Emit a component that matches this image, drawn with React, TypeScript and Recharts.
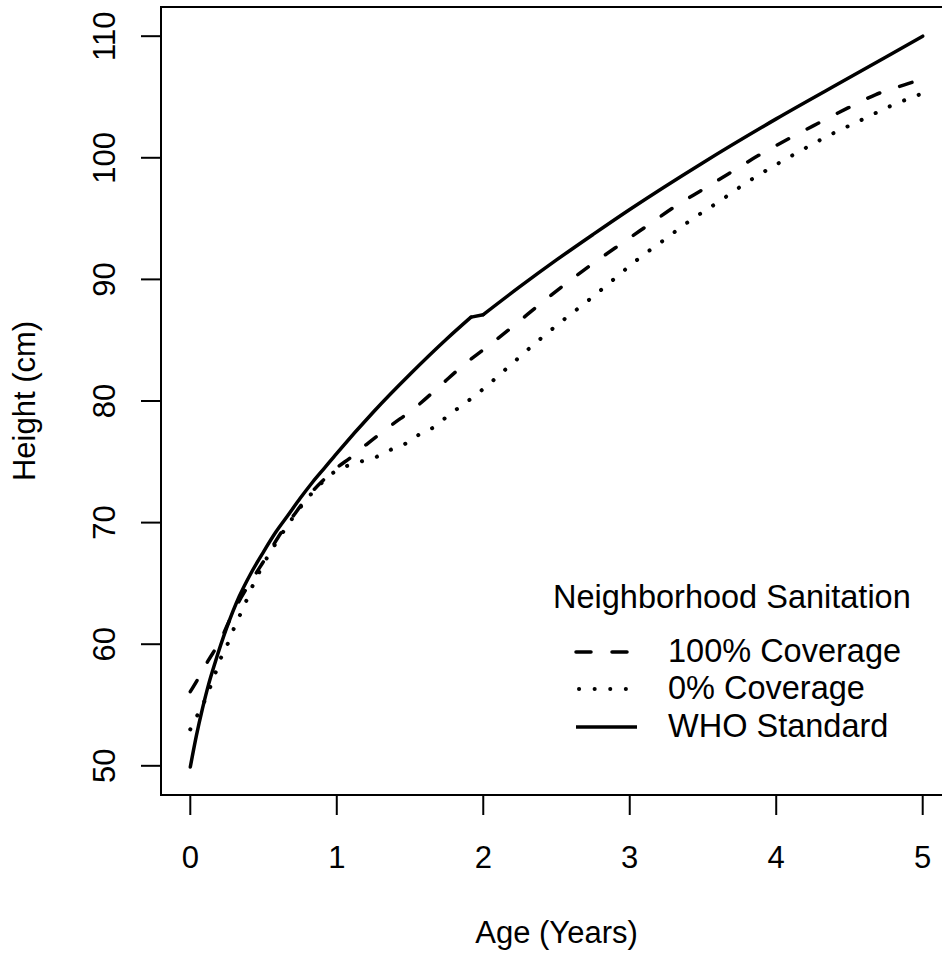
import React from 'react';
import { LineChart, Line, XAxis, YAxis, ReferenceArea } from 'recharts';

// WHO Standard (solid): recumbent length to 23 months, standing height from 24 months
const whoAges = [0, 0.042, 0.083, 0.125, 0.167, 0.25, 0.333, 0.417, 0.5, 0.583, 0.667, 0.75, 0.833, 0.917, 1.0, 1.25, 1.5, 1.75, 1.917, 2.0, 2.25, 2.5, 2.75, 3.0, 3.5, 4.0, 4.5, 5.0];
const whoHeights = [49.9, 52.5, 54.7, 56.7, 58.4, 61.4, 63.9, 65.9, 67.6, 69.2, 70.6, 72.0, 73.3, 74.5, 75.7, 79.1, 82.2, 85.1, 86.9, 87.1, 89.4, 91.6, 93.7, 95.75, 99.6, 103.2, 106.6, 110.0];

// 100% Coverage (dashed)
const fullAges = [0, 0.05, 0.12, 0.2, 0.3, 0.4, 0.5, 0.6, 0.7, 0.8, 0.9, 1.0, 1.1, 1.2, 1.36, 1.54, 1.71, 1.85, 2.02, 2.21, 2.4, 2.58, 2.76, 2.95, 3.13, 3.31, 3.5, 3.69, 3.88, 4.09, 4.28, 4.49, 4.68, 4.9, 5.0];
const fullHeights = [56.1, 57.1, 58.6, 60.2, 62.8, 64.9, 66.8, 68.8, 70.5, 72.1, 73.4, 74.5, 75.4, 76.4, 77.9, 79.5, 81.3, 82.8, 84.4, 86.2, 88.1, 89.8, 91.4, 93.0, 94.5, 96.0, 97.4, 98.8, 100.2, 101.6, 102.8, 104.1, 105.2, 106.1, 106.5];

// 0% Coverage (dotted)
const noneAges = [0, 0.05, 0.1, 0.18, 0.22, 0.27, 0.31, 0.36, 0.4, 0.5, 0.6, 0.7, 0.8, 0.9, 1.0, 1.08, 1.16, 1.27, 1.37, 1.47, 1.57, 1.67, 1.76, 1.85, 1.94, 2.02, 2.19, 2.36, 2.53, 2.71, 2.88, 3.06, 3.24, 3.42, 3.61, 3.79, 3.98, 4.17, 4.37, 4.58, 4.77, 5.0];
const noneHeights = [53.0, 54.2, 55.4, 57.9, 59.2, 60.4, 61.7, 62.9, 64.1, 66.6, 68.6, 70.4, 72.0, 73.3, 74.3, 74.7, 75.0, 75.4, 76.0, 76.5, 77.3, 77.9, 78.8, 79.6, 80.4, 81.2, 83.0, 84.8, 86.5, 88.2, 89.9, 91.7, 93.3, 94.9, 96.4, 97.9, 99.3, 100.6, 101.9, 103.1, 104.2, 105.3];

const xTicks = [0, 1, 2, 3, 4, 5];
const yTicks = [50, 60, 70, 80, 90, 100, 110];

const legendTitle = 'Neighborhood Sanitation';
const legendLabels = ['100% Coverage', '0% Coverage', 'WHO Standard'];

const toRows = (ages: number[], hs: number[]) => ages.map((a, i) => ({ age: a, h: hs[i] }));
const whoData = toRows(whoAges, whoHeights);
const switchIdx = whoAges.indexOf(1.917);
const whoLengthPart = whoData.slice(0, switchIdx + 1);
const whoSwitchPart = whoData.slice(switchIdx, switchIdx + 2);
const whoHeightPart = whoData.slice(switchIdx + 1);
const fullData = toRows(fullAges, fullHeights);
const noneData = toRows(noneAges, noneHeights);

const FONT = '"Liberation Sans", Arial, Helvetica, sans-serif';
const FS = 31;
const LFS = 32.5;

const XTick = (p: any) => (
  <text x={p.x} y={868} textAnchor="middle" fontFamily={FONT} fontSize={FS} fill="#000">
    {p.payload.value}
  </text>
);

const YTick = (p: any) => (
  <text transform={`translate(115, ${p.y}) rotate(-90)`} textAnchor="middle" fontFamily={FONT} fontSize={FS} fill="#000">
    {p.payload.value}
  </text>
);

const XLabel = (p: any) => {
  const vb = p.viewBox || { x: 161, width: 790 };
  return (
    <text x={vb.x + vb.width / 2} y={943} textAnchor="middle" fontFamily={FONT} fontSize={FS} fill="#000">
      Age (Years)
    </text>
  );
};

const YLabel = (p: any) => (
  <text transform="translate(35, 401) rotate(-90)" textAnchor="middle" fontFamily={FONT} fontSize={FS} fill="#000">
    Height (cm)
  </text>
);

const DASH = '13 21';
const DOT = '0.1 15.5';

export default function App() {
  return (
    <div style={{ position: 'absolute', left: 0, top: 0, width: 942, height: 955, overflow: 'hidden', background: '#fff' }}>
      <LineChart width={962} height={955} margin={{ top: 7, right: 10, bottom: 130, left: 101 }}>
        <XAxis
          type="number"
          dataKey="age"
          domain={[-0.2, 5.2]}
          ticks={xTicks}
          allowDataOverflow
          axisLine={false}
          tickLine={{ stroke: '#000', strokeWidth: 2 }}
          tickSize={20}
          height={30}
          tick={<XTick />}
          label={<XLabel />}
        />
        <YAxis
          type="number"
          dataKey="h"
          domain={[47.6, 112.4]}
          ticks={yTicks}
          allowDataOverflow
          axisLine={false}
          tickLine={{ stroke: '#000', strokeWidth: 2 }}
          tickSize={20}
          width={60}
          tick={<YTick />}
          label={<YLabel />}
        />
        <ReferenceArea x1={-0.2} x2={5.2} y1={47.6} y2={112.4} fill="none" fillOpacity={0} stroke="#000" strokeWidth={2} />
        <Line data={noneData} dataKey="h" type="monotone" stroke="#000" strokeWidth={4} strokeDasharray={DOT} strokeLinecap="round" dot={false} activeDot={false} isAnimationActive={false} />
        <Line data={fullData} dataKey="h" type="monotone" stroke="#000" strokeWidth={3.5} strokeDasharray={DASH} strokeLinecap="round" dot={false} activeDot={false} isAnimationActive={false} />
        <Line data={whoLengthPart} dataKey="h" type="monotone" stroke="#000" strokeWidth={3.5} strokeLinecap="round" dot={false} activeDot={false} isAnimationActive={false} />
        <Line data={whoSwitchPart} dataKey="h" type="linear" stroke="#000" strokeWidth={3.5} strokeLinecap="round" dot={false} activeDot={false} isAnimationActive={false} />
        <Line data={whoHeightPart} dataKey="h" type="monotone" stroke="#000" strokeWidth={3.5} strokeLinecap="round" dot={false} activeDot={false} isAnimationActive={false} />
      </LineChart>
      <svg width={942} height={955} style={{ position: 'absolute', left: 0, top: 0, pointerEvents: 'none' }}>
        <text x={553} y={608} fontFamily={FONT} fontSize={LFS} fill="#000">{legendTitle}</text>
        <line x1={576} x2={630} y1={652} y2={652} stroke="#000" strokeWidth={3.5} strokeDasharray="15 21" strokeLinecap="round" />
        <line x1={579} x2={630} y1={689} y2={689} stroke="#000" strokeWidth={4} strokeDasharray={DOT} strokeLinecap="round" />
        <line x1={576} x2={637} y1={727} y2={727} stroke="#000" strokeWidth={3.5} />
        <text x={668} y={662} fontFamily={FONT} fontSize={LFS} fill="#000">{legendLabels[0]}</text>
        <text x={668} y={699} fontFamily={FONT} fontSize={LFS} fill="#000">{legendLabels[1]}</text>
        <text x={668} y={737} fontFamily={FONT} fontSize={LFS} fill="#000">{legendLabels[2]}</text>
      </svg>
    </div>
  );
}
